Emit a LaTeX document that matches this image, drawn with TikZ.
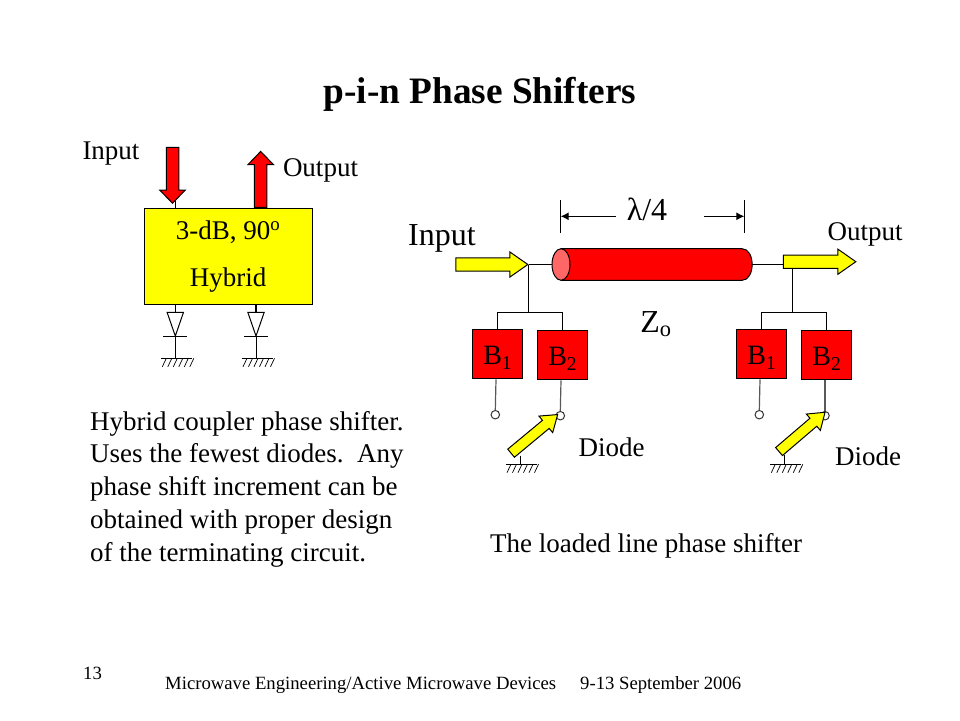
\documentclass[tikz,border=0pt]{standalone}
\usepackage{fontspec}
\setmainfont{Liberation Serif}
\usetikzlibrary{shapes.arrows,shapes.geometric,arrows.meta}
\definecolor{capred}{RGB}{255,102,102}
\definecolor{hotred}{RGB}{255,0,0}
\definecolor{hotyel}{RGB}{255,255,0}
\newcommand{\blabel}[1]{\raisebox{-10.5pt}[0pt][0pt]{B\textsubscript{#1}}}
\tikzset{
  txt/.style={inner sep=0pt,font=\fontsize{27}{32}\selectfont},
  txtbig/.style={inner sep=0pt,font=\fontsize{32}{38}\selectfont},
  txtfoot/.style={inner sep=0pt,font=\fontsize{18.7}{22}\selectfont},
  flow/.style={single arrow,draw=black,line width=1pt,inner sep=0pt,text depth=0pt,text width=0pt,anchor=tip},
  redflow/.style={flow,fill=hotred,text height=11.5pt,single arrow head extend=6.5pt,single arrow tip angle=88},
  yelflow/.style={flow,fill=hotyel,text height=12.2pt,single arrow head extend=6pt,single arrow tip angle=70},
  probe/.style={flow,fill=hotyel,text height=9.5pt,single arrow head extend=5.5pt,single arrow tip angle=70,minimum height=60.5pt},
  susc/.style={draw=black,fill=hotred,line width=1pt,minimum width=50pt,minimum height=49pt,inner sep=0pt,font=\fontsize{28}{34}\selectfont,anchor=north west},
  wire/.style={line width=1.2pt},
  stem/.style={line width=1.2pt,draw=black!65},
  pad/.style={circle,draw=black!80,fill=white,line width=1pt,minimum size=8.5pt,inner sep=0pt},
  gnd/.pic={
    \draw[line width=1pt] (-14,0) -- (17,0);
    \foreach \i in {-9,-3.5,2,7.5,13,18.5}
      \draw[line width=0.7pt] (\i,0) -- ++(-4,8.5);
  },
  diodegnd/.pic={
    \coordinate (-top) at (0,0);
    \draw[line width=1pt] (-8.2,0) -- (8.2,0) -- (0,23.7) -- cycle;
    \draw[line width=1pt] (-12,23.7) -- (12,23.7);
    \draw[line width=1pt] (0,23.7) -- (0,46);
    \pic at (0,46) {gnd};
  }
}
\begin{document}
\begin{tikzpicture}[x=1pt,y=-1pt]
\useasboundingbox (0,0) rectangle (960,720);
\node[inner sep=0pt,font=\fontsize{37.3}{44}\selectfont\bfseries] (title) at (480,94) {p-i-n Phase Shifters};
% hybrid coupler
\node[draw=black,fill=hotyel,line width=1.2pt,minimum width=168pt,minimum height=95.5pt,inner sep=0pt,
  align=center,font=\fontsize{27}{47}\selectfont] (hybrid) at (228.2,256.4) {3-dB, 90\textsuperscript{o}\\Hybrid};
\coordinate (portA) at (175.3,208.7);
\coordinate (portB) at (256,208.7);
\draw[wire] (portA) -- ++(0,-8);
\draw[wire] (portB) -- ++(0,-5);
\node[redflow,minimum height=56pt,rotate=-90] (inH) at (172.5,204) {};
\node[redflow,minimum height=56pt,rotate=90] (outH) at (260.7,150.7) {};
\node[txt] (inHt) at (111,154) {Input};
\node[txt] (outHt) at (320.5,170) {Output};
\pic (dioA) at (175.3,312.3) {diodegnd};
\pic (dioB) at (256,312.3) {diodegnd};
\draw[wire] (dioA-top |- hybrid.south) -- (dioA-top);
\draw[wire] (dioB-top |- hybrid.south) -- (dioB-top);
\node[txt,anchor=north west,align=left,font=\fontsize{27}{32.7}\selectfont] (desc) at (90,411) {Hybrid coupler phase shifter.\\Uses the fewest diodes.\ \ Any\\phase shift increment can be\\obtained with proper design\\of the terminating circuit.};
% loaded line
\coordinate (dimL) at (560.7,216.3);
\coordinate (dimR) at (744.3,216.3);
\draw[line width=1pt] (dimL) ++(0,-16.3) -- ++(0,32.7);
\draw[line width=1pt] (dimR) ++(0,-16.3) -- ++(0,32.7);
\coordinate (dimLs) at (616,216.3);
\coordinate (dimRs) at (704,216.3);
\draw[-{Latex[length=8pt,width=8pt]},line width=1pt] (dimLs) -- (dimL);
\draw[-{Latex[length=8pt,width=8pt]},line width=1pt] (dimRs) -- (dimR);
\node[txtbig] (lam) at (647,209) {λ/4};
\draw[fill=hotred,line width=1pt] (561,248.7) -- (742,248.7) .. controls (755.5,248.7) and (755.5,280.3) .. (742,280.3) -- (561,280.3) -- cycle;
\node[ellipse,draw=black,fill=capred,line width=1pt,minimum width=18pt,minimum height=31.6pt,inner sep=0pt] (capL) at (561,264.5) {};
\coordinate (capR) at (752,264.5);
\coordinate (juncL) at (528.7,264.5);
\coordinate (juncR) at (792.3,264.5);
\draw[wire] (juncL) -- (capL.west);
\draw[wire] (capR) -- (juncR);
\node[txtbig] (Zo) at (656,324) {Z\textsubscript{o}};
\node[txtbig] (inLt) at (442,238) {Input};
\node[txt] (outLt) at (865,234) {Output};
\node[susc] (B1a) at (472.3,329.3) {\blabel{1}};
\node[susc] (B2a) at (537.3,330.3) {\blabel{2}};
\node[susc] (B1b) at (736.3,329.3) {\blabel{1}};
\node[susc] (B2b) at (801.3,330.3) {\blabel{2}};
\coordinate (busLa) at (497.5,312.3);
\coordinate (busLb) at (562.7,312.3);
\coordinate (busRa) at (761.3,312.3);
\coordinate (busRb) at (826.4,312.3);
\draw[wire] (juncL) -- (juncL |- busLa);
\draw[wire] (juncR) -- (juncR |- busRa);
\draw[wire] (busLa |- B1a.north) -- (busLa) -- (busLb) -- (busLb |- B2a.north);
\draw[wire] (busRa |- B1b.north) -- (busRa) -- (busRb) -- (busRb |- B2b.north);
\node[pad] (padLa) at (495.3,414.7) {};
\node[pad] (padLb) at (560.3,415.7) {};
\node[pad] (padRa) at (759.3,414.7) {};
\node[pad] (padRb) at (825,415.7) {};
\draw[stem] (B1a.south -| padLa) ++(0.7,0) -- (padLa.north);
\draw[stem] (B2a.south -| padLb) ++(0.7,0) -- (padLb.north);
\draw[stem] (B1b.south -| padRa) ++(0.7,0) -- (padRa.north);
\draw[stem] (B2b.south -| padRb) -- (padRb.north);
\node[yelflow,minimum height=72pt] (inL) at (528.7,264.5) {};
\node[yelflow,minimum height=72.4pt] (outL) at (856.7,261.7) {};
\coordinate (gndLtop) at (520,455.7);
\coordinate (gndRtop) at (784.3,455);
\draw[line width=1pt] (gndLtop) -- ++(0,8.5) pic {gnd};
\draw[line width=1pt] (gndRtop) -- ++(0,9.2) pic {gnd};
\node[probe,rotate=39.7] (prbL) at (558.3,414) {};
\node[probe,rotate=40.5] (prbR) at (825.7,411.7) {};
\node[txt] (dioLt) at (611.5,447) {Diode};
\node[txt] (dioRt) at (868,456) {Diode};
\node[txt] (cap) at (646,546) {The loaded line phase shifter};
% footer
\node[txtfoot] (pageno) at (92.5,673) {13};
\node[txtfoot,anchor=west] (footA) at (165,685) {Microwave Engineering/Active Microwave Devices};
\node[txtfoot,anchor=west] (footB) at (580,685) {9-13 September 2006};
\end{tikzpicture}
\end{document}
